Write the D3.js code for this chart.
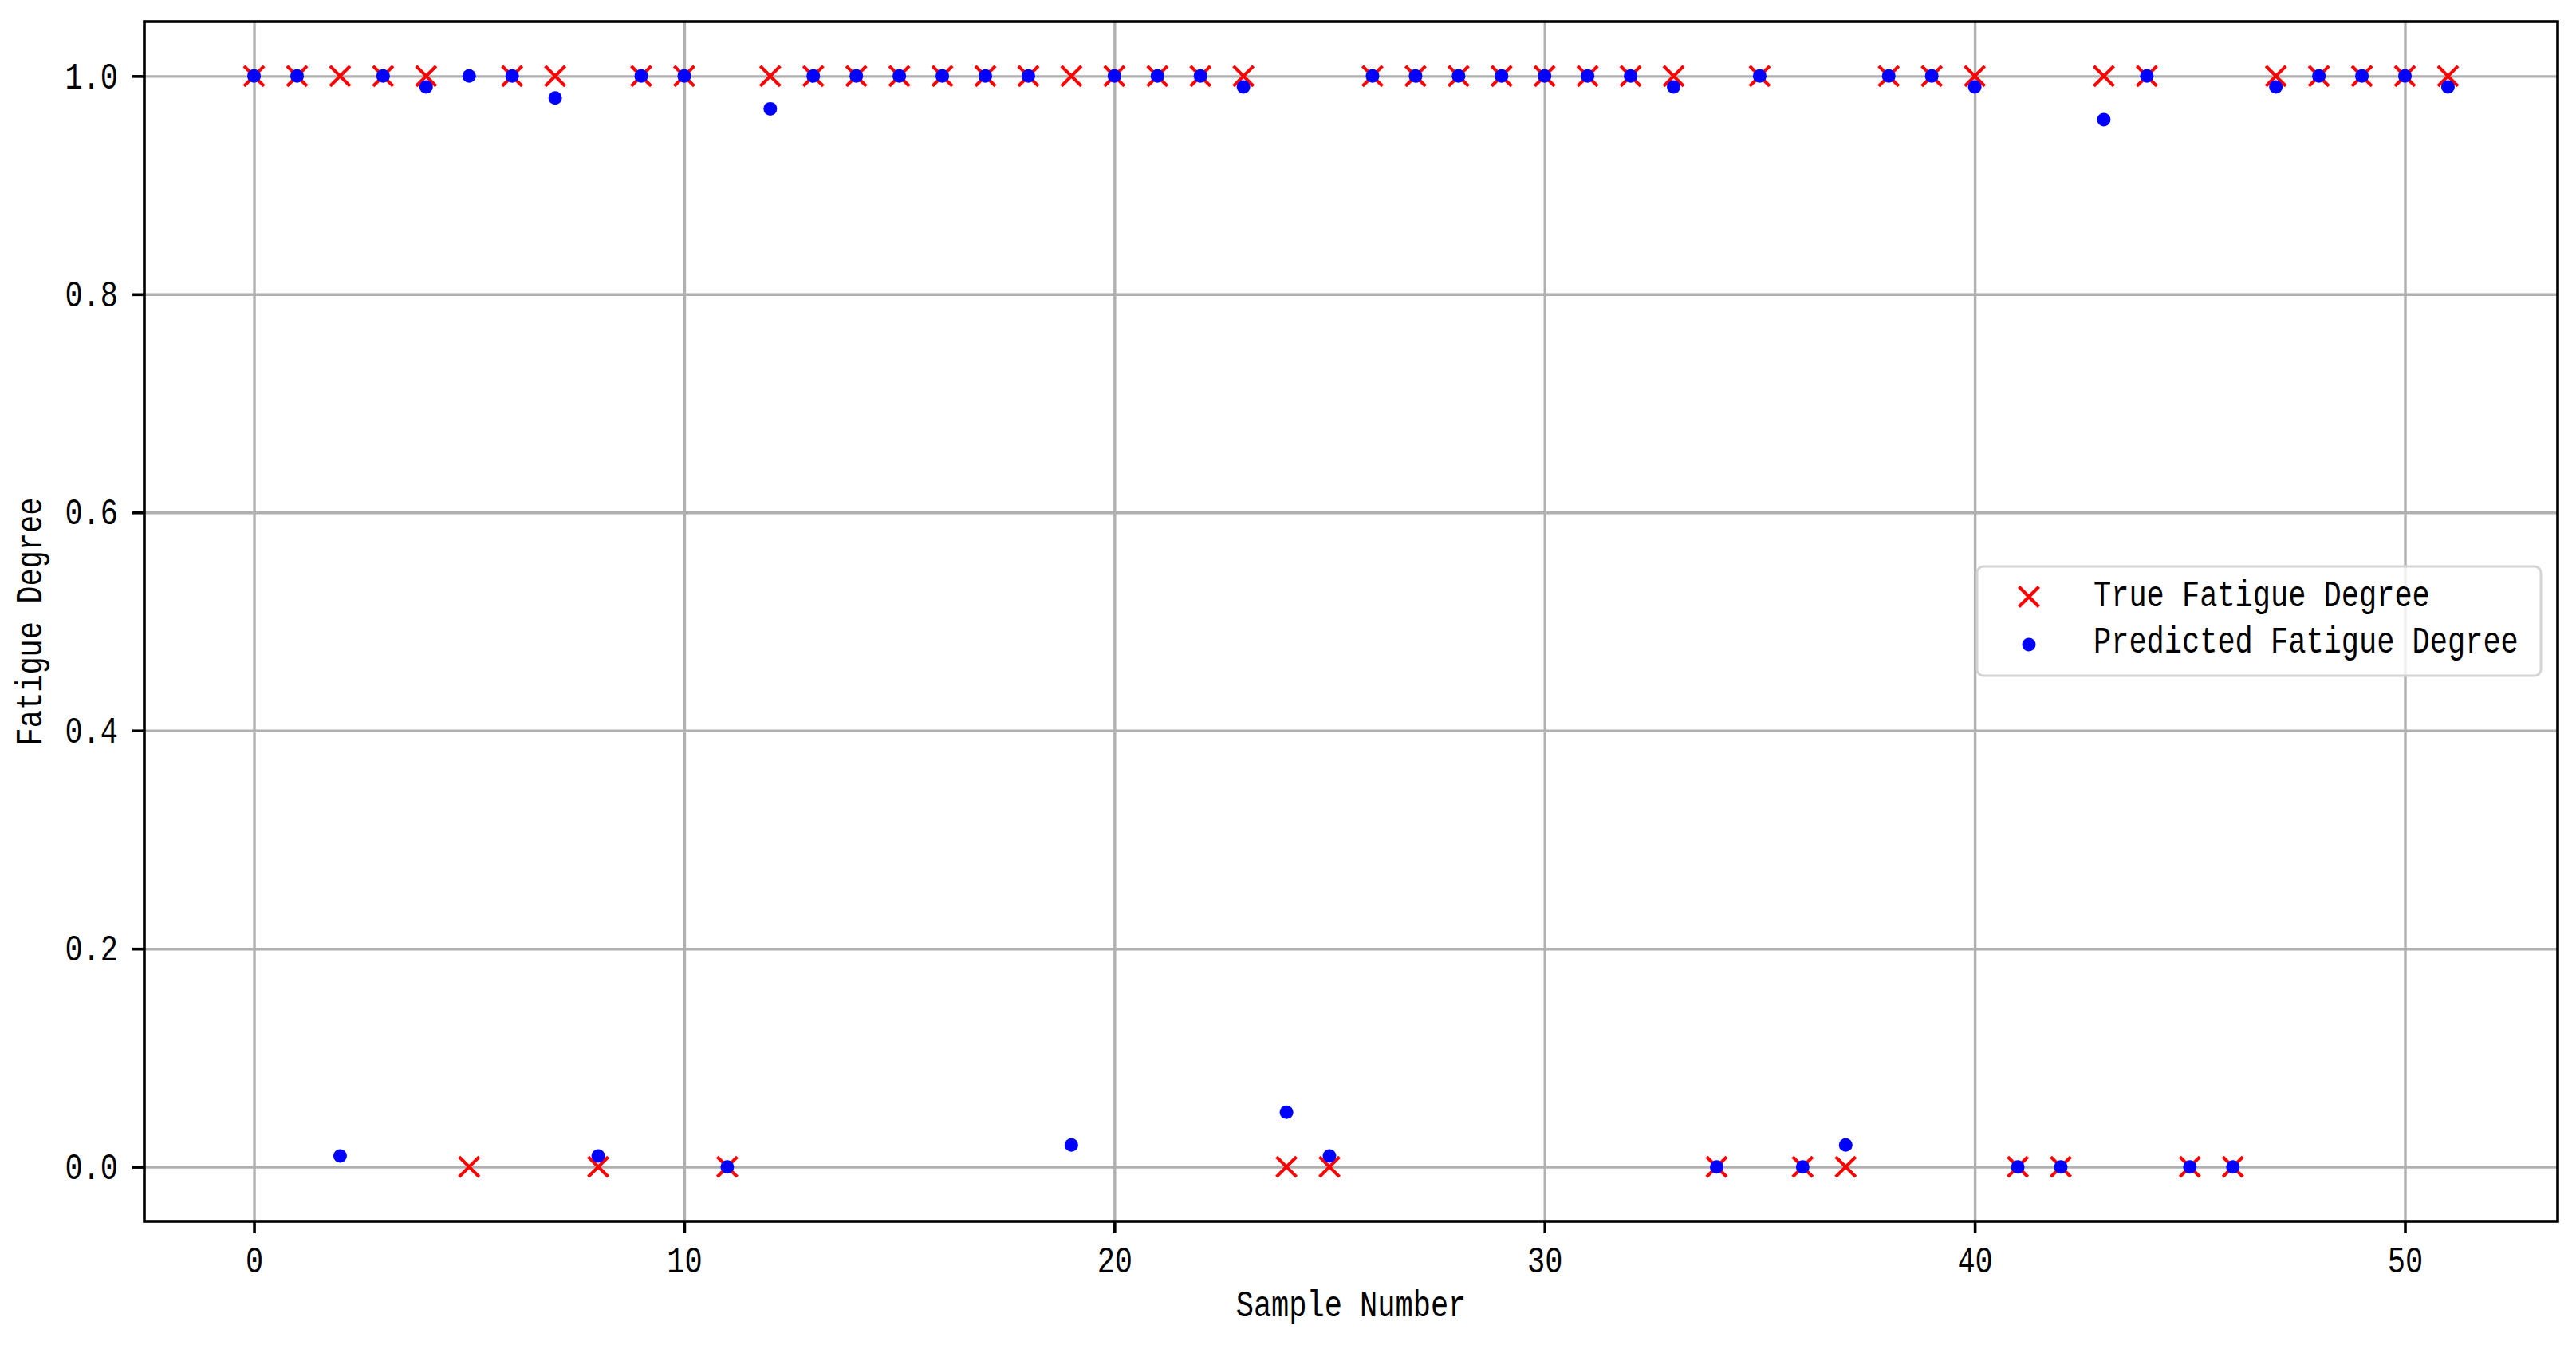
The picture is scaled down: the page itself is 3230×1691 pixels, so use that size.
<!DOCTYPE html>
<html>
<head>
<meta charset="utf-8">
<script src="https://cdn.jsdelivr.net/npm/d3@7/dist/d3.min.js"></script>
<style>
  body { margin: 0; background: #fff; }
  text { font-family: "Liberation Mono", "DejaVu Sans Mono", monospace; fill: #000; }
</style>
</head>
<body>
<svg id="chart" width="3230" height="1691"></svg>
<script>
// Sample index of every test sample
const sampleIds = [0, 1, 2, 3, 4, 5, 6, 7, 8, 9, 10, 11, 12, 13, 14, 15, 16, 17, 18, 19,
                   20, 21, 22, 23, 24, 25, 26, 27, 28, 29, 30, 31, 32, 33, 34, 35, 36, 37, 38, 39,
                   40, 41, 42, 43, 44, 45, 46, 47, 48, 49, 50, 51];

// True labels (red crosses)
const trueDegree = [1, 1, 1, 1, 1, 0, 1, 1, 0, 1, 1, 0, 1, 1, 1, 1, 1, 1, 1, 1,
                    1, 1, 1, 1, 0, 0, 1, 1, 1, 1, 1, 1, 1, 1, 0, 1, 0, 0, 1, 1,
                    1, 0, 0, 1, 1, 0, 0, 1, 1, 1, 1, 1];

// Model output (blue dots)
const predictedDegree = [1, 1, 0.01, 1, 0.99, 1, 1, 0.98, 0.01, 1, 1, 0, 0.97, 1, 1, 1, 1, 1, 1, 0.02,
                         1, 1, 1, 0.99, 0.05, 0.01, 1, 1, 1, 1, 1, 1, 1, 0.99, 0, 1, 0, 0.02, 1, 1,
                         0.99, 0, 0, 0.96, 1, 0, 0, 0.99, 1, 1, 1, 0.99];

const xTicks = [0, 10, 20, 30, 40, 50];
const yTicks = [0, 0.2, 0.4, 0.6, 0.8, 1.0];
const seriesNames = ["True Fatigue Degree", "Predicted Fatigue Degree"];

const svg = d3.select("#chart"),
      width = +svg.attr("width"),
      height = +svg.attr("height");

const margin = { top: 27, right: 23, bottom: 160, left: 181 };
const fontSize = 46;
const charW = 22.2;                         // half-width latin glyphs, like SimHei
const squeeze = charW / (fontSize * 0.6);   // Liberation Mono advance is 0.6em

// narrow a text element horizontally so each character takes charW pixels
function halfWidth(sel) {
    sel.each(function () {
        const t = d3.select(this);
        const x0 = +t.attr("x") || 0;
        t.attr("x", x0 / squeeze)
         .attr("transform", (t.attr("transform") || "") + ` scale(${squeeze},1)`);
    });
}

// matplotlib style 5% margins around data range
const x = d3.scaleLinear()
            .domain([-2.55, 53.55])
            .range([margin.left, width - margin.right]);
const y = d3.scaleLinear()
            .domain([-0.05, 1.05])
            .range([height - margin.bottom, margin.top]);

// Grid lines
svg.append("g")
   .attr("transform", `translate(0,${height - margin.bottom})`)
   .call(d3.axisBottom(x).tickValues(xTicks).tickSize(-(height - margin.top - margin.bottom)).tickFormat(""))
   .call(g => g.select(".domain").remove())
   .call(g => g.selectAll("line").attr("stroke", "#b0b0b0").attr("stroke-width", 3.4));
svg.append("g")
   .attr("transform", `translate(${margin.left},0)`)
   .call(d3.axisLeft(y).tickValues(yTicks).tickSize(-(width - margin.left - margin.right)).tickFormat(""))
   .call(g => g.select(".domain").remove())
   .call(g => g.selectAll("line").attr("stroke", "#b0b0b0").attr("stroke-width", 3.4));

// True values drawn as crosses
const cross = 12.5;
const crossPath = `M${-cross},${-cross}L${cross},${cross}M${cross},${-cross}L${-cross},${cross}`;
svg.append("g")
   .selectAll("path")
   .data(sampleIds)
   .join("path")
   .attr("d", crossPath)
   .attr("transform", i => `translate(${x(i)},${y(trueDegree[i])})`)
   .attr("stroke", "#ff0000")
   .attr("stroke-width", 4.2)
   .attr("fill", "none");

// Predicted values drawn as dots, on top
svg.append("g")
   .selectAll("circle")
   .data(sampleIds)
   .join("circle")
   .attr("cx", i => x(i))
   .attr("cy", i => y(predictedDegree[i]))
   .attr("r", 8.5)
   .attr("fill", "#0000ff");

// Axes with tick labels
const xAxis = svg.append("g")
   .attr("transform", `translate(0,${height - margin.bottom})`)
   .call(d3.axisBottom(x).tickValues(xTicks).tickSize(15).tickPadding(16).tickFormat(d3.format("d")));
const yAxis = svg.append("g")
   .attr("transform", `translate(${margin.left},0)`)
   .call(d3.axisLeft(y).tickValues(yTicks).tickSize(15).tickPadding(18).tickFormat(d3.format(".1f")));
[xAxis, yAxis].forEach(g => {
    g.select(".domain").remove();
    g.selectAll(".tick line").attr("stroke", "#000").attr("stroke-width", 3.6);
    g.selectAll(".tick text").attr("font-size", fontSize).style("font-family", null).call(halfWidth);
});
xAxis.selectAll(".tick text").attr("dy", "0.72em");

// Frame around the plot area
svg.append("rect")
   .attr("x", margin.left)
   .attr("y", margin.top)
   .attr("width", width - margin.left - margin.right)
   .attr("height", height - margin.top - margin.bottom)
   .attr("fill", "none")
   .attr("stroke", "#000")
   .attr("stroke-width", 3.6);

// Axis titles
svg.append("text")
   .attr("transform", `translate(${(margin.left + width - margin.right) / 2},1650)`)
   .attr("text-anchor", "middle")
   .attr("font-size", fontSize)
   .text("Sample Number")
   .call(halfWidth);
svg.append("text")
   .attr("transform", `translate(52,${(margin.top + height - margin.bottom) / 2}) rotate(-90)`)
   .attr("text-anchor", "middle")
   .attr("font-size", fontSize)
   .text("Fatigue Degree")
   .call(halfWidth);

// Legend box on the right side
const legend = svg.append("g").attr("transform", "translate(2479,710)");
legend.append("rect")
      .attr("width", 707)
      .attr("height", 137)
      .attr("rx", 8)
      .attr("fill", "#fff")
      .attr("fill-opacity", 0.8)
      .attr("stroke", "#d4d4d4")
      .attr("stroke-width", 3);
legend.append("path")
      .attr("d", crossPath)
      .attr("transform", "translate(65,38)")
      .attr("stroke", "#ff0000")
      .attr("stroke-width", 4.2);
legend.append("circle")
      .attr("cx", 65)
      .attr("cy", 98)
      .attr("r", 8.5)
      .attr("fill", "#0000ff");
legend.selectAll("text.label")
      .data(seriesNames)
      .join("text")
      .attr("class", "label")
      .attr("transform", (d, i) => `translate(146,${50 + i * 58})`)
      .attr("font-size", fontSize)
      .text(d => d)
      .call(halfWidth);
</script>
</body>
</html>
